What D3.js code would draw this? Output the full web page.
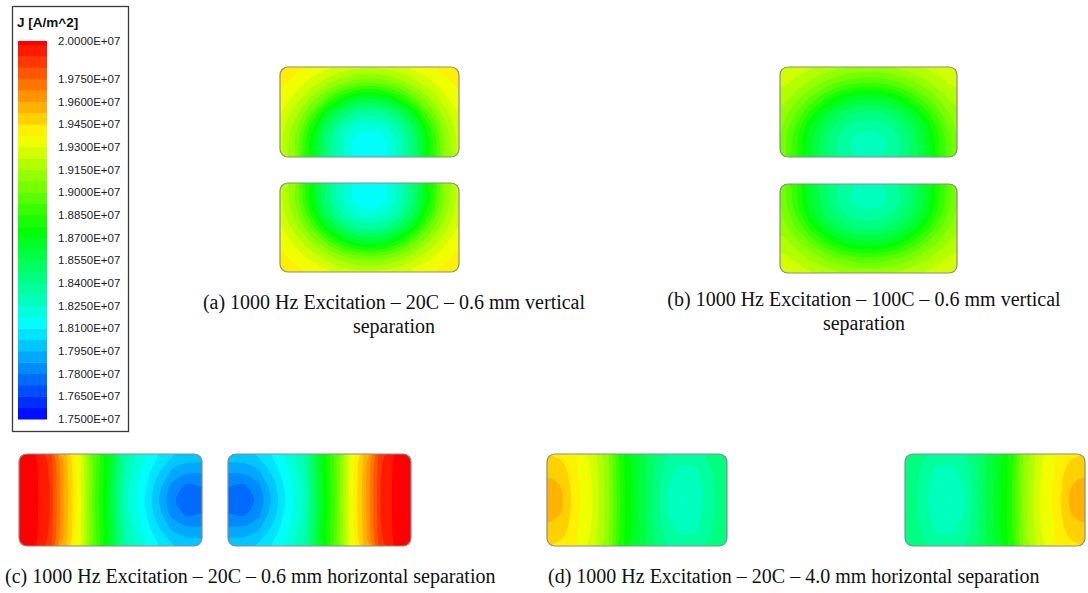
<!DOCTYPE html>
<html><head><meta charset="utf-8">
<script src="https://cdn.jsdelivr.net/npm/d3@7"></script>
<style>body{margin:0;background:#fff}svg{display:block}</style>
</head><body>
<svg id="chart" width="1088" height="593"></svg>
<script>
// ---------- data (current density J, in units of 1E+07 A/m^2) ----------
const legendTitle = "J [A/m^2]";
const legendTicks = [2.0, 1.975, 1.96, 1.945, 1.93, 1.915, 1.9, 1.885, 1.87, 1.855, 1.84, 1.825, 1.81, 1.795, 1.78, 1.765, 1.75];
const legendTickLabels = ["2.0000E+07","1.9750E+07","1.9600E+07","1.9450E+07","1.9300E+07","1.9150E+07","1.9000E+07","1.8850E+07","1.8700E+07","1.8550E+07","1.8400E+07","1.8250E+07","1.8100E+07","1.7950E+07","1.7800E+07","1.7650E+07","1.7500E+07"];
const legendMin = 1.75, legendMax = 2.0, bandStep = 0.0075;
const colorStops = [1.75, 1.8125, 1.875, 1.9375, 2.0];
const colorRange = ["#0000ff", "#00ffff", "#00ff00", "#ffff00", "#ff0000"];

// sampled fields, rows top->bottom, columns left->right
const fieldA_top = [
 [1.950,1.940,1.937,1.933,1.928,1.925,1.924,1.925,1.928,1.933,1.937,1.940,1.947],
 [1.940,1.935,1.928,1.920,1.911,1.904,1.902,1.904,1.911,1.920,1.928,1.935,1.940],
 [1.936,1.928,1.916,1.900,1.882,1.868,1.864,1.868,1.882,1.900,1.916,1.928,1.936],
 [1.931,1.919,1.900,1.872,1.852,1.840,1.836,1.840,1.852,1.872,1.900,1.919,1.931],
 [1.927,1.911,1.884,1.854,1.834,1.822,1.818,1.822,1.834,1.854,1.884,1.911,1.927],
 [1.925,1.907,1.875,1.847,1.826,1.814,1.810,1.814,1.826,1.847,1.875,1.907,1.925],
 [1.926,1.909,1.879,1.850,1.830,1.817,1.813,1.817,1.830,1.850,1.879,1.909,1.926]];
const fieldA_bottom = [
 [1.926,1.909,1.879,1.850,1.830,1.817,1.813,1.817,1.830,1.850,1.879,1.909,1.926],
 [1.925,1.907,1.875,1.847,1.826,1.814,1.810,1.814,1.826,1.847,1.875,1.907,1.925],
 [1.927,1.911,1.884,1.854,1.834,1.822,1.818,1.822,1.834,1.854,1.884,1.911,1.927],
 [1.931,1.919,1.900,1.872,1.852,1.840,1.836,1.840,1.852,1.872,1.900,1.919,1.931],
 [1.936,1.928,1.916,1.900,1.882,1.868,1.864,1.868,1.882,1.900,1.916,1.928,1.936],
 [1.940,1.935,1.928,1.920,1.911,1.904,1.902,1.904,1.911,1.920,1.928,1.935,1.940],
 [1.950,1.940,1.937,1.933,1.928,1.925,1.924,1.925,1.928,1.933,1.937,1.940,1.947]];
const fieldB_top = [
 [1.934,1.927,1.924,1.920,1.917,1.914,1.913,1.914,1.917,1.920,1.924,1.927,1.934],
 [1.926,1.921,1.914,1.907,1.900,1.895,1.893,1.895,1.900,1.907,1.914,1.921,1.926],
 [1.920,1.912,1.901,1.888,1.874,1.867,1.865,1.867,1.874,1.888,1.901,1.912,1.920],
 [1.914,1.902,1.884,1.866,1.855,1.848,1.846,1.848,1.855,1.866,1.884,1.902,1.914],
 [1.909,1.893,1.870,1.854,1.843,1.836,1.833,1.836,1.843,1.854,1.870,1.893,1.909],
 [1.907,1.888,1.865,1.849,1.837,1.830,1.828,1.830,1.837,1.849,1.865,1.888,1.907],
 [1.908,1.890,1.867,1.851,1.840,1.833,1.830,1.833,1.840,1.851,1.867,1.890,1.908]];
const fieldB_bottom = [
 [1.908,1.890,1.867,1.851,1.840,1.833,1.830,1.833,1.840,1.851,1.867,1.890,1.908],
 [1.907,1.888,1.865,1.849,1.837,1.830,1.828,1.830,1.837,1.849,1.865,1.888,1.907],
 [1.909,1.893,1.870,1.854,1.843,1.836,1.833,1.836,1.843,1.854,1.870,1.893,1.909],
 [1.914,1.902,1.884,1.866,1.855,1.848,1.846,1.848,1.855,1.866,1.884,1.902,1.914],
 [1.920,1.912,1.901,1.888,1.874,1.867,1.865,1.867,1.874,1.888,1.901,1.912,1.920],
 [1.926,1.921,1.914,1.907,1.900,1.895,1.893,1.895,1.900,1.907,1.914,1.921,1.926],
 [1.934,1.927,1.924,1.920,1.917,1.914,1.913,1.914,1.917,1.920,1.924,1.927,1.934]];
const fieldC_left = [
 [2.004,1.999,1.988,1.956,1.931,1.895,1.867,1.834,1.822,1.812,1.804,1.800,1.802],
 [2.005,2.000,1.989,1.957,1.932,1.894,1.865,1.831,1.818,1.806,1.795,1.789,1.791],
 [2.005,2.000,1.990,1.958,1.933,1.893,1.863,1.828,1.815,1.800,1.786,1.779,1.781],
 [2.005,2.000,1.990,1.958,1.933,1.892,1.862,1.826,1.813,1.797,1.780,1.773,1.776],
 [2.005,2.000,1.990,1.958,1.933,1.893,1.863,1.828,1.815,1.800,1.786,1.779,1.781],
 [2.005,2.000,1.989,1.957,1.932,1.894,1.865,1.831,1.818,1.806,1.795,1.789,1.791],
 [2.004,1.999,1.988,1.956,1.931,1.895,1.867,1.834,1.822,1.812,1.804,1.800,1.802]];
const fieldC_right = [
 [1.802,1.800,1.804,1.812,1.822,1.834,1.867,1.895,1.931,1.956,1.988,1.999,2.004],
 [1.791,1.789,1.795,1.806,1.818,1.831,1.865,1.894,1.932,1.957,1.989,2.000,2.005],
 [1.781,1.779,1.786,1.800,1.815,1.828,1.863,1.893,1.933,1.958,1.990,2.000,2.005],
 [1.776,1.773,1.780,1.797,1.813,1.826,1.862,1.892,1.933,1.958,1.990,2.000,2.005],
 [1.781,1.779,1.786,1.800,1.815,1.828,1.863,1.893,1.933,1.958,1.990,2.000,2.005],
 [1.791,1.789,1.795,1.806,1.818,1.831,1.865,1.894,1.932,1.957,1.989,2.000,2.005],
 [1.802,1.800,1.804,1.812,1.822,1.834,1.867,1.895,1.931,1.956,1.988,1.999,2.004]];
const fieldD_left = [
 [1.945,1.943,1.937,1.928,1.912,1.880,1.864,1.850,1.840,1.836,1.838,1.843,1.849],
 [1.951,1.949,1.938,1.929,1.912,1.880,1.864,1.849,1.836,1.830,1.832,1.840,1.847],
 [1.956,1.952,1.939,1.930,1.912,1.881,1.865,1.848,1.833,1.826,1.829,1.839,1.846],
 [1.958,1.954,1.940,1.931,1.913,1.881,1.865,1.848,1.832,1.824,1.828,1.838,1.846],
 [1.956,1.952,1.939,1.930,1.912,1.881,1.865,1.848,1.833,1.826,1.829,1.839,1.846],
 [1.951,1.949,1.938,1.929,1.912,1.880,1.864,1.849,1.836,1.830,1.832,1.840,1.847],
 [1.945,1.943,1.937,1.928,1.912,1.880,1.864,1.850,1.840,1.836,1.838,1.843,1.849]];
const fieldD_right = [
 [1.849,1.843,1.838,1.836,1.840,1.850,1.864,1.880,1.912,1.928,1.937,1.943,1.945],
 [1.847,1.840,1.832,1.830,1.836,1.849,1.864,1.880,1.912,1.929,1.938,1.949,1.951],
 [1.846,1.839,1.829,1.826,1.833,1.848,1.865,1.881,1.912,1.930,1.939,1.952,1.956],
 [1.846,1.838,1.828,1.824,1.832,1.848,1.865,1.881,1.913,1.931,1.940,1.954,1.958],
 [1.846,1.839,1.829,1.826,1.833,1.848,1.865,1.881,1.912,1.930,1.939,1.952,1.956],
 [1.847,1.840,1.832,1.830,1.836,1.849,1.864,1.880,1.912,1.929,1.938,1.949,1.951],
 [1.849,1.843,1.838,1.836,1.840,1.850,1.864,1.880,1.912,1.928,1.937,1.943,1.945]];

const captions = [
  ["(a) 1000 Hz Excitation \u2013 20C \u2013 0.6 mm vertical", "separation"],
  ["(b) 1000 Hz Excitation \u2013 100C \u2013 0.6 mm vertical", "separation"],
  ["(c) 1000 Hz Excitation \u2013 20C \u2013 0.6 mm horizontal separation"],
  ["(d) 1000 Hz Excitation \u2013 20C \u2013 4.0 mm horizontal separation"]
];

// ---------- layout ----------
const panels = [
  {field: fieldA_top,    x: 280, y: 67,  w: 179, h: 90},
  {field: fieldA_bottom, x: 280, y: 183, w: 179, h: 89},
  {field: fieldB_top,    x: 780, y: 67,  w: 177, h: 90},
  {field: fieldB_bottom, x: 780, y: 184, w: 177, h: 89},
  {field: fieldC_left,   x: 19,  y: 454, w: 183, h: 92},
  {field: fieldC_right,  x: 228, y: 454, w: 183, h: 92},
  {field: fieldD_left,   x: 547, y: 454, w: 180, h: 92},
  {field: fieldD_right,  x: 905, y: 454, w: 180, h: 92}
];
const captionLayout = [
  {x: 394, y: 309, anchor: "middle", dy: 24},
  {x: 864, y: 306, anchor: "middle", dy: 24},
  {x: 5,   y: 583, anchor: "start",  dy: 0},
  {x: 548, y: 583, anchor: "start",  dy: 0}
];

const svg = d3.select("#chart");
const defs = svg.append("defs");
const color = d3.scaleLinear().domain(colorStops).range(colorRange).clamp(true);
const nBands = Math.ceil((legendMax - legendMin) / bandStep - 1e-9);
const thresholds = d3.range(nBands).map(i => +(legendMin + i * bandStep).toFixed(5));
const bandColor = t => color(t + bandStep / 2);

// ---------- legend ----------
const yLeg = d3.scaleLinear().domain([legendMin, legendMax]).range([419, 41]);
svg.append("rect").attr("x", 12.5).attr("y", 6.5).attr("width", 116).attr("height", 425)
  .attr("fill", "#fff").attr("stroke", "#3a3a3a").attr("stroke-width", 1.3);
svg.append("text").attr("x", 17).attr("y", 27).text(legendTitle)
  .attr("font-family", "Liberation Sans, Arial, sans-serif").attr("font-size", 13.5)
  .attr("font-weight", "bold").attr("fill", "#111");
svg.append("g").selectAll("rect").data(thresholds).join("rect")
  .attr("x", 18).attr("width", 29)
  .attr("y", t => yLeg(Math.min(t + bandStep, legendMax)))
  .attr("height", t => yLeg(t) - yLeg(Math.min(t + bandStep, legendMax)) + 0.5)
  .attr("fill", t => bandColor(t));
svg.append("g").selectAll("text").data(legendTicks).join("text")
  .attr("x", 58).attr("y", v => yLeg(v) + 1).attr("dominant-baseline", "middle")
  .attr("font-family", "Liberation Sans, Arial, sans-serif").attr("font-size", 11.5)
  .attr("fill", "#222").text((v, i) => legendTickLabels[i]);

// ---------- fields ----------
panels.forEach((p, i) => {
  const id = "clip" + i;
  defs.append("clipPath").attr("id", id).append("rect")
    .attr("x", p.x).attr("y", p.y).attr("width", p.w).attr("height", p.h).attr("rx", 8);
  const g = svg.append("g").attr("clip-path", `url(#${id})`);
  const ny = p.field.length, nx = p.field[0].length;
  const flat = p.field.flat();
  const sx = d3.scaleLinear().domain([0.5, nx - 0.5]).range([p.x, p.x + p.w]);
  const sy = d3.scaleLinear().domain([0.5, ny - 0.5]).range([p.y, p.y + p.h]);
  const minV = d3.min(flat);
  const baseT = thresholds.filter(t => t <= minV).pop();
  g.append("rect").attr("x", p.x).attr("y", p.y).attr("width", p.w).attr("height", p.h)
    .attr("fill", bandColor(baseT));
  const line = d3.line().x(d => sx(d[0])).y(d => sy(d[1]))
    .curve(d3.curveBasisClosed);
  const cs = d3.contours().size([nx, ny]).thresholds(thresholds.filter(t => t > minV))(flat);
  g.selectAll("path").data(cs.filter(c => c.coordinates.length)).join("path")
    .attr("d", c => c.coordinates.map(poly => poly.map(ring => line(ring.slice(0, -1))).join("")).join(""))
    .attr("fill-rule", "evenodd")
    .attr("fill", c => bandColor(c.value));
  svg.append("rect").attr("x", p.x).attr("y", p.y).attr("width", p.w).attr("height", p.h)
    .attr("rx", 8).attr("fill", "none").attr("stroke", "#8c8c8c").attr("stroke-width", 1.2);
});

// ---------- captions ----------
captions.forEach((lines, i) => {
  const L = captionLayout[i];
  const t = svg.append("text").attr("font-family", "Liberation Serif, Times New Roman, serif")
    .attr("font-size", 20).attr("fill", "#111").attr("text-anchor", L.anchor);
  lines.forEach((s, k) => t.append("tspan").attr("x", L.x).attr("y", L.y + k * L.dy).text(s));
});
</script>
</body></html>
